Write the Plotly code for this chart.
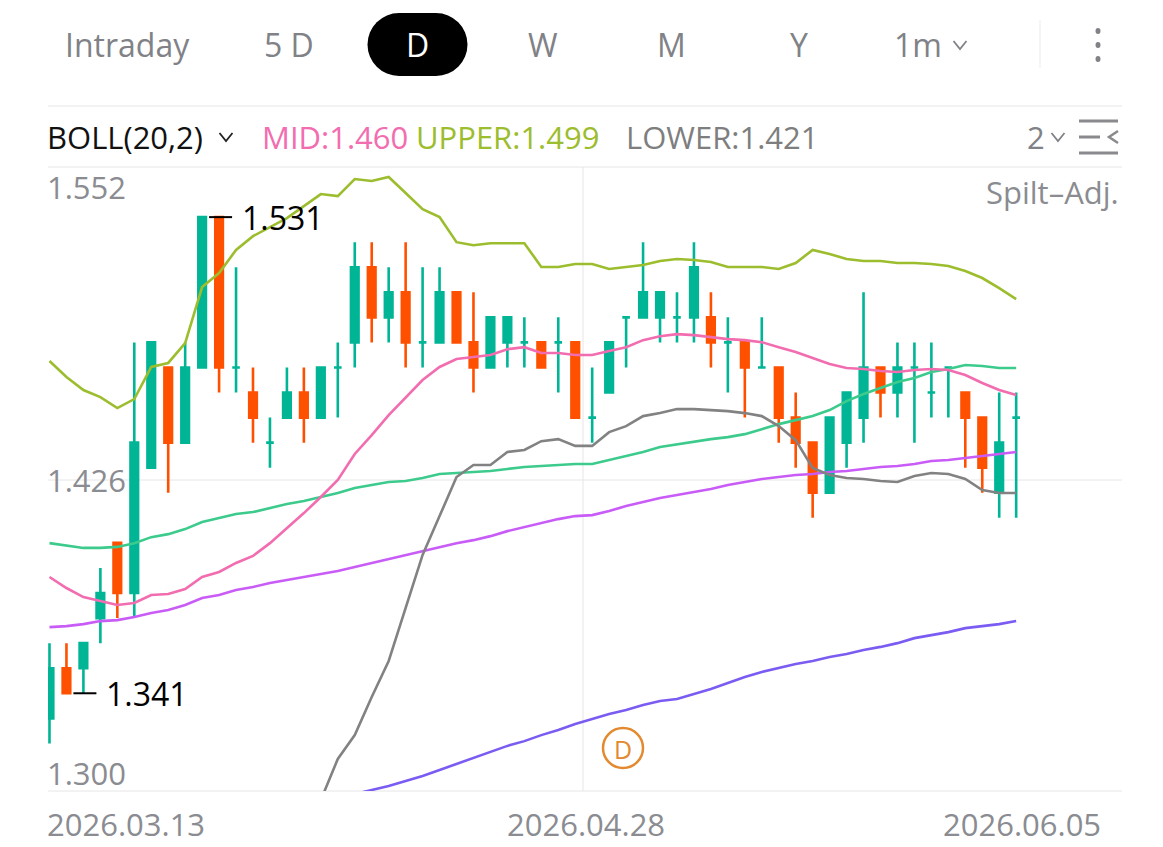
import plotly.graph_objects as go

# ---------------- data ----------------
opens = [1.331, 1.351, 1.351, 1.371, 1.401, 1.381, 1.431, 1.471, 1.441, 1.471,
         1.531, 1.471, 1.461, 1.441, 1.451, 1.461, 1.451, 1.471, 1.481, 1.511,
         1.491, 1.501, 1.481, 1.481, 1.501, 1.481, 1.471, 1.481, 1.481, 1.481,
         1.481, 1.481, 1.451, 1.461, 1.491, 1.491, 1.491, 1.491, 1.491, 1.491,
         1.481, 1.481, 1.471, 1.471, 1.451, 1.441, 1.421, 1.441, 1.451, 1.471,
         1.461, 1.471, 1.461, 1.471, 1.461, 1.451, 1.421, 1.451]
highs = [1.361, 1.361, 1.361, 1.391, 1.401, 1.481, 1.481, 1.471, 1.481, 1.531,
         1.531, 1.511, 1.471, 1.451, 1.471, 1.471, 1.471, 1.481, 1.521, 1.521,
         1.511, 1.521, 1.511, 1.511, 1.501, 1.501, 1.491, 1.491, 1.491, 1.481,
         1.491, 1.481, 1.471, 1.481, 1.491, 1.521, 1.501, 1.501, 1.521, 1.501,
         1.491, 1.481, 1.491, 1.471, 1.461, 1.441, 1.451, 1.461, 1.501, 1.471,
         1.481, 1.481, 1.481, 1.471, 1.461, 1.451, 1.461, 1.461]
lows = [1.321, 1.341, 1.341, 1.361, 1.371, 1.371, 1.431, 1.421, 1.441, 1.471,
        1.461, 1.461, 1.441, 1.431, 1.451, 1.441, 1.451, 1.451, 1.471, 1.481,
        1.481, 1.471, 1.471, 1.481, 1.481, 1.461, 1.471, 1.471, 1.471, 1.471,
        1.461, 1.451, 1.441, 1.461, 1.471, 1.491, 1.481, 1.481, 1.481, 1.471,
        1.461, 1.451, 1.471, 1.441, 1.431, 1.411, 1.421, 1.431, 1.441, 1.451,
        1.451, 1.441, 1.451, 1.451, 1.431, 1.421, 1.411, 1.411]
closes = [1.351, 1.341, 1.361, 1.381, 1.381, 1.441, 1.481, 1.441, 1.471, 1.531,
          1.471, 1.471, 1.451, 1.441, 1.461, 1.451, 1.471, 1.471, 1.511, 1.491,
          1.501, 1.481, 1.481, 1.501, 1.481, 1.471, 1.491, 1.491, 1.481, 1.471,
          1.481, 1.451, 1.451, 1.481, 1.491, 1.501, 1.501, 1.491, 1.511, 1.481,
          1.481, 1.471, 1.471, 1.451, 1.441, 1.421, 1.451, 1.461, 1.471, 1.461,
          1.471, 1.471, 1.461, 1.471, 1.451, 1.431, 1.441, 1.451]

boll_upper = [1.4736, 1.4672, 1.4620, 1.4592, 1.4548, 1.4584, 1.4712, 1.4728, 1.4807, 1.5031,
              1.5087, 1.5179, 1.5234, 1.5270, 1.5306, 1.5354, 1.5402, 1.5394, 1.5462, 1.5454,
              1.5470, 1.5406, 1.5342, 1.5310, 1.5210, 1.5198, 1.5206, 1.5206, 1.5206, 1.5111,
              1.5111, 1.5123, 1.5123, 1.5103, 1.5111, 1.5119, 1.5135, 1.5143, 1.5139, 1.5131,
              1.5111, 1.5111, 1.5111, 1.5103, 1.5127, 1.5179, 1.5163, 1.5143, 1.5135, 1.5135,
              1.5127, 1.5127, 1.5123, 1.5115, 1.5095, 1.5067, 1.5027, 1.4983]
boll_mid = [1.3874, 1.3830, 1.3794, 1.3778, 1.3762, 1.3770, 1.3802, 1.3806, 1.3826, 1.3874,
            1.3894, 1.3930, 1.3958, 1.4009, 1.4069, 1.4129, 1.4193, 1.4261, 1.4365, 1.4440,
            1.4520, 1.4592, 1.4660, 1.4712, 1.4744, 1.4752, 1.4760, 1.4783, 1.4791, 1.4768,
            1.4768, 1.4760, 1.4760, 1.4776, 1.4791, 1.4819, 1.4835, 1.4843, 1.4839, 1.4831,
            1.4823, 1.4819, 1.4811, 1.4791, 1.4772, 1.4748, 1.4724, 1.4708, 1.4704, 1.4696,
            1.4692, 1.4700, 1.4704, 1.4700, 1.4680, 1.4648, 1.4620, 1.4600]
boll_lower = [1.3012, 1.2988, 1.2968, 1.2964, 1.2976, 1.2956, 1.2892, 1.2884, 1.2845, 1.2717,
              1.2701, 1.2681, 1.2682, 1.2748, 1.2832, 1.2904, 1.2984, 1.3148, 1.3243, 1.3395,
              1.3539, 1.3754, 1.3962, 1.4117, 1.4273, 1.4321, 1.4321, 1.4373, 1.4381, 1.4416,
              1.4424, 1.4397, 1.4397, 1.4452, 1.4476, 1.4516, 1.4528, 1.4544, 1.4544, 1.4540,
              1.4536, 1.4528, 1.4516, 1.4476, 1.4420, 1.4309, 1.4281, 1.4269, 1.4265, 1.4257,
              1.4253, 1.4277, 1.4289, 1.4285, 1.4265, 1.4221, 1.4209, 1.4209]
ma_green = [1.4009, 1.3998, 1.3990, 1.3990, 1.3994, 1.4009, 1.4033, 1.4045, 1.4065, 1.4093,
            1.4109, 1.4125, 1.4133, 1.4149, 1.4165, 1.4177, 1.4193, 1.4209, 1.4229, 1.4241,
            1.4253, 1.4257, 1.4269, 1.4285, 1.4289, 1.4293, 1.4297, 1.4305, 1.4313, 1.4317,
            1.4321, 1.4325, 1.4325, 1.4341, 1.4357, 1.4373, 1.4393, 1.4404, 1.4416, 1.4424,
            1.4432, 1.4444, 1.4464, 1.4484, 1.4500, 1.4516, 1.4540, 1.4576, 1.4604, 1.4628,
            1.4652, 1.4668, 1.4692, 1.4704, 1.4720, 1.4716, 1.4708, 1.4708]
ma_magenta = [1.3674, 1.3678, 1.3686, 1.3698, 1.3702, 1.3714, 1.3730, 1.3742, 1.3762, 1.3790,
              1.3802, 1.3822, 1.3834, 1.3850, 1.3862, 1.3874, 1.3886, 1.3898, 1.3914, 1.3930,
              1.3946, 1.3962, 1.3978, 1.3994, 1.4009, 1.4021, 1.4037, 1.4057, 1.4073, 1.4089,
              1.4105, 1.4117, 1.4121, 1.4137, 1.4157, 1.4173, 1.4189, 1.4201, 1.4213, 1.4225,
              1.4241, 1.4253, 1.4265, 1.4273, 1.4281, 1.4285, 1.4293, 1.4297, 1.4305, 1.4313,
              1.4317, 1.4325, 1.4337, 1.4341, 1.4349, 1.4357, 1.4365, 1.4373]
ma_blue = [1.2577, 1.2601, 1.2625, 1.2649, 1.2673, 1.2697, 1.2721, 1.2745, 1.2769, 1.2793,
           1.2816, 1.2840, 1.2864, 1.2888, 1.2912, 1.2936, 1.2960, 1.2984, 1.3008, 1.3024,
           1.3040, 1.3060, 1.3080, 1.3104, 1.3128, 1.3152, 1.3176, 1.3200, 1.3219, 1.3243,
           1.3263, 1.3287, 1.3307, 1.3327, 1.3343, 1.3363, 1.3379, 1.3387, 1.3407, 1.3427,
           1.3451, 1.3475, 1.3495, 1.3511, 1.3527, 1.3539, 1.3555, 1.3567, 1.3583, 1.3595,
           1.3610, 1.3630, 1.3642, 1.3654, 1.3670, 1.3678, 1.3686, 1.3698]

period_tabs = ["Intraday", "5 D", "D", "W", "M", "Y"]
minute_tab = "1m"
indicator_name = "BOLL(20,2)"
mid_last, upper_last, lower_last = 1.460, 1.499, 1.421
y_tick_labels = ["1.552", "1.426", "1.300"]
x_tick_labels = ["2026.03.13", "2026.04.28", "2026.06.05"]
adj_label = "Spilt–Adj."
dividend_mark = "D"
hi_idx, lo_idx = 10, 2

# ---------------- styling / geometry ----------------
W, H = 1163, 847
PL, PR, PT, PB = 48, 1122, 167, 791
XR = [-0.088, 63.24]
YR = [1.302, 1.551]
GREEN, RED = "#00B595", "#FF5000"
C_UP, C_MID, C_LOW = "#9CBD2D", "#F26DB0", "#828282"
C_MA1, C_MA2, C_MA3 = "#3CCB8C", "#C95CF6", "#7B5CF2"
GRAY_TXT = "#808287"
AX_TXT = "#8A8C91"
GRID = "#E6E6E6"
FONT = "Open Sans"
LBL = 31

def xp(px):
    return (px - PL) / (PR - PL)

def yp(py):
    return (PB - py) / (PB - PT)

x = list(range(len(opens)))

fig = go.Figure()

inc = [i for i in x if closes[i] >= opens[i]]
dec = [i for i in x if closes[i] < opens[i]]
for idx, col in ((inc, GREEN), (dec, RED)):
    fig.add_trace(go.Candlestick(
        x=[x[i] for i in idx],
        open=[opens[i] for i in idx], high=[highs[i] for i in idx],
        low=[lows[i] for i in idx], close=[closes[i] for i in idx],
        increasing=dict(line=dict(color=col, width=2.6), fillcolor=col),
        decreasing=dict(line=dict(color=col, width=2.6), fillcolor=col),
        whiskerwidth=0, hoverinfo="skip", showlegend=False))

for series, col in ((ma_blue, C_MA3), (ma_magenta, C_MA2), (ma_green, C_MA1),
                    (boll_lower, C_LOW), (boll_mid, C_MID), (boll_upper, C_UP)):
    fig.add_trace(go.Scatter(x=x, y=series, mode="lines",
                             line=dict(color=col, width=2.6), hoverinfo="skip",
                             showlegend=False))

shapes = []
def hline(py, x0=PL, x1=PR, color=GRID, w=1, layer="below"):
    shapes.append(dict(type="line", xref="paper", yref="paper", x0=xp(x0), x1=xp(x1),
                       y0=yp(py), y1=yp(py), line=dict(color=color, width=w), layer=layer))

hline(106)
hline(167)
hline(791)
shapes.append(dict(type="line", xref="paper", yref="y", x0=0, x1=1, y0=1.4261, y1=1.4261,
                   line=dict(color=GRID, width=1), layer="below"))
shapes.append(dict(type="line", xref="paper", yref="paper", x0=xp(583), x1=xp(583),
                   y0=0, y1=1, line=dict(color=GRID, width=1), layer="below"))
# tab separator
shapes.append(dict(type="line", xref="paper", yref="paper", x0=xp(1040), x1=xp(1040),
                   y0=yp(20), y1=yp(68), line=dict(color="#EBEBEB", width=1)))
# selected pill
shapes.append(dict(type="rect", xref="paper", yref="paper", x0=xp(399), x1=xp(436),
                   y0=yp(76), y1=yp(13), fillcolor="black", line=dict(width=0)))
for cx in (399, 436):
    shapes.append(dict(type="circle", xref="paper", yref="paper", x0=xp(cx - 31.5),
                       x1=xp(cx + 31.5), y0=yp(76), y1=yp(13), fillcolor="black",
                       line=dict(width=0)))
# three dots
for dy in (31, 45, 59):
    shapes.append(dict(type="circle", xref="paper", yref="paper", x0=xp(1095.5), x1=xp(1100.5),
                       y0=yp(dy + 3), y1=yp(dy - 3), fillcolor=GRAY_TXT, line=dict(width=0)))

def chevron(cx, cy, hw=6.5, hh=4, color=GRAY_TXT, w=1.8):
    path = (f"M {xp(cx - hw)},{yp(cy - hh)} L {xp(cx)},{yp(cy + hh)} "
            f"L {xp(cx + hw)},{yp(cy - hh)}")
    shapes.append(dict(type="path", xref="paper", yref="paper", path=path,
                       line=dict(color=color, width=w)))

chevron(960, 45)
chevron(226, 137, color="#222222")
chevron(1058, 137)
# menu icon
for yy, xa, xb in ((121, 1079, 1118), (137, 1079, 1100), (153, 1079, 1118)):
    hline(yy, xa, xb, color="#8A8A8E", w=3, layer="above")
shapes.append(dict(type="path", xref="paper", yref="paper",
                   path=f"M {xp(1118)},{yp(131)} L {xp(1109)},{yp(137)} L {xp(1118)},{yp(143)}",
                   line=dict(color="#8A8A8E", width=2.5)))
# max / min markers
shapes.append(dict(type="line", xref="x", yref="y", xsizemode="pixel", xanchor=hi_idx,
                   x0=-10, x1=13, y0=highs[hi_idx], y1=highs[hi_idx],
                   line=dict(color="black", width=2)))
shapes.append(dict(type="line", xref="x", yref="y", xsizemode="pixel", xanchor=lo_idx,
                   x0=-10, x1=13, y0=lows[lo_idx], y1=lows[lo_idx],
                   line=dict(color="black", width=2)))
# dividend circle
shapes.append(dict(type="circle", xref="paper", yref="paper", x0=xp(603), x1=xp(643),
                   y0=yp(768), y1=yp(728), line=dict(color="#E3892F", width=2.5)))

anns = []
def ann(text, px, py, size, color, xanchor="left"):
    anns.append(dict(text=text, x=xp(px), y=yp(py), xref="paper", yref="paper",
                     xanchor=xanchor, yanchor="middle", showarrow=False,
                     font=dict(family=FONT, size=size, color=color)))

tab_pos = [(63, "left"), (262, "left"), (417, "center"), (543, "center"),
           (671, "center"), (799, "center")]
for t, (px, xa) in zip(period_tabs, tab_pos):
    ann(t, px, 44, 32, "white" if t == "D" else GRAY_TXT, xa)
ann(minute_tab, 892, 44, 32, GRAY_TXT)

ann(indicator_name, 45, 137, LBL, "#111111")
ann(f"MID:{mid_last:.3f}", 260, 137, LBL, C_MID)
ann(f"UPPER:{upper_last:.3f}", 414, 137, LBL, C_UP)
ann(f"LOWER:{lower_last:.3f}", 624, 137, LBL, "#7E7E7E")
ann("2", 1025, 137, LBL, GRAY_TXT)

ann(y_tick_labels[0], 45, 187, LBL, AX_TXT)
ann(y_tick_labels[1], 45, 480, LBL, AX_TXT)
ann(y_tick_labels[2], 45, 773, LBL, AX_TXT)
ann(x_tick_labels[0], 45, 824, LBL, AX_TXT)
ann(x_tick_labels[1], 586, 824, LBL, AX_TXT, "center")
ann(x_tick_labels[2], 1022, 824, LBL, AX_TXT, "center")
ann(adj_label, 1121, 192, LBL, AX_TXT, "right")
ann(dividend_mark, 623, 749, 25, "#E3892F", "center")

for idx, val in ((hi_idx, highs[hi_idx]), (lo_idx, lows[lo_idx])):
    anns.append(dict(text=f"{val:.3f}", x=idx, y=val, xref="x", yref="y",
                     xanchor="left", yanchor="middle", xshift=21, showarrow=False,
                     font=dict(family=FONT, size=32, color="black")))

fig.update_layout(
    width=W, height=H,
    margin=dict(l=PL, r=W - PR, t=PT, b=H - PB, pad=0),
    paper_bgcolor="white", plot_bgcolor="white",
    boxgap=0.36,
    xaxis=dict(range=XR, visible=False, rangeslider=dict(visible=False), fixedrange=True),
    yaxis=dict(range=YR, visible=False, fixedrange=True),
    shapes=shapes, annotations=anns, showlegend=False,
)

fig.write_html("out.html", config={"displayModeBar": False})
